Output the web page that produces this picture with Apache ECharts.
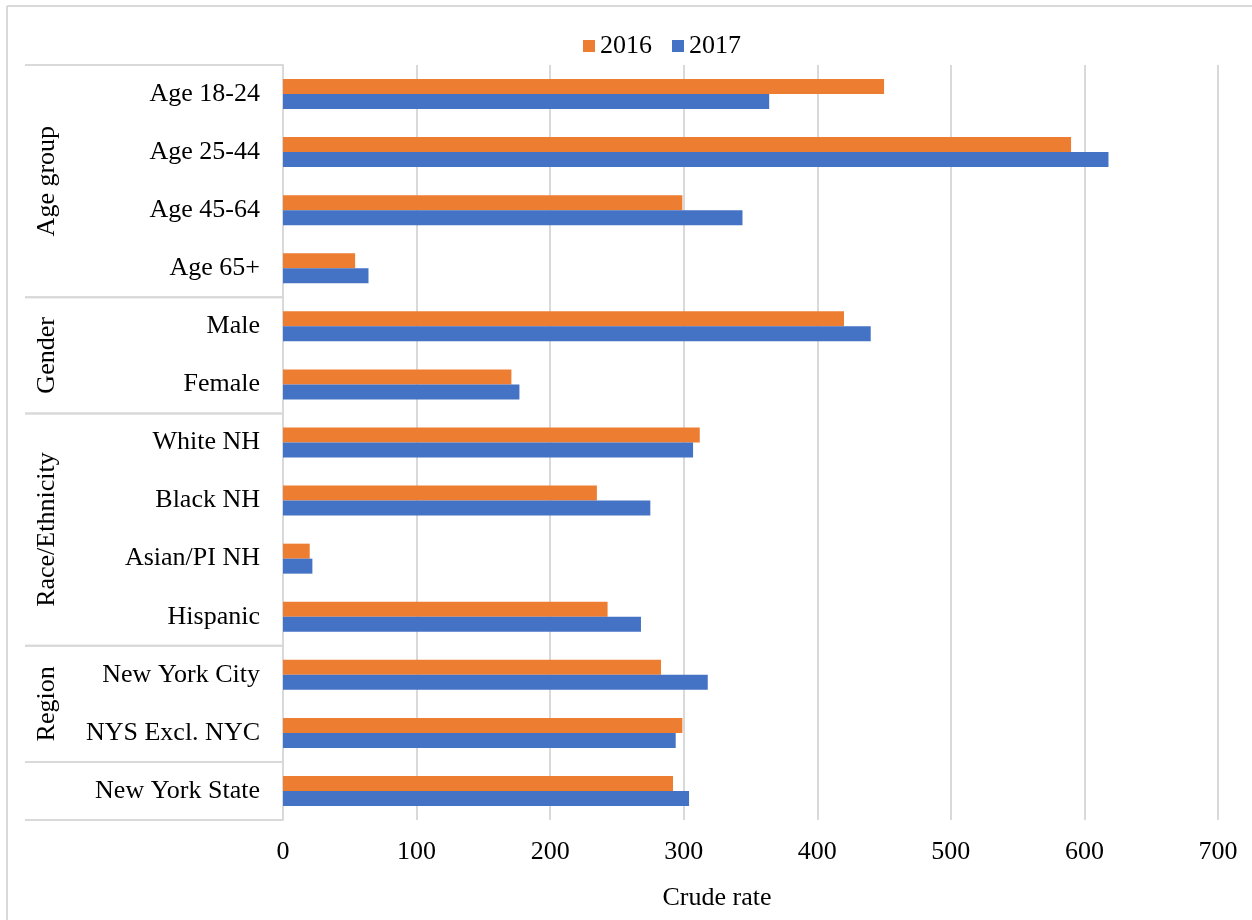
<!DOCTYPE html>
<html>
<head>
<meta charset="utf-8">
<script src="https://cdn.jsdelivr.net/npm/echarts@6/dist/echarts.min.js"></script>
<style>
  html, body { margin: 0; padding: 0; background: #fff; }
  #chart { width: 1252px; height: 920px; }
</style>
</head>
<body>
<div id="chart"></div>
<script>
// categories, top to bottom
const categories = [
  'Age 18-24', 'Age 25-44', 'Age 45-64', 'Age 65+',
  'Male', 'Female',
  'White NH', 'Black NH', 'Asian/PI NH', 'Hispanic',
  'New York City', 'NYS Excl. NYC',
  'New York State'
];
const rate2016 = [450, 590, 299, 54, 420, 171, 312, 235, 20, 243, 283, 299, 292];
const rate2017 = [364, 618, 344, 64, 440, 177, 307, 275, 22, 268, 318, 294, 304];

// group labels: [label, first category, last category]
const groupNames = ['Age group', 'Gender', 'Race/Ethnicity', 'Region', ''];
const groupFirst = ['Age 18-24', 'Male', 'White NH', 'New York City', 'New York State'];
const groupLast = ['Age 65+', 'Female', 'Hispanic', 'NYS Excl. NYC', 'New York State'];

const xMax = 700;
const xStep = 100;

const font = "'Liberation Serif', 'Times New Roman', serif";
const gray = '#d9d9d9';
const ink = '#000';

let chart = echarts.init(document.getElementById('chart'));

let option = {
  animation: false,
  backgroundColor: '#fff',
  textStyle: { fontFamily: font },
  legend: {
    data: ['2016', '2017'],
    left: 578,
    top: 28,
    itemWidth: 12,
    itemHeight: 12,
    itemGap: 20,
    icon: 'rect',
    textStyle: { fontFamily: font, fontSize: 26, color: ink }
  },
  grid: {
    left: 283,
    right: 34,
    top: 65,
    bottom: 100
  },
  xAxis: {
    type: 'value',
    min: 0,
    max: xMax,
    interval: xStep,
    axisLine: { show: false },
    axisTick: { show: false },
    axisLabel: { fontFamily: font, fontSize: 26, color: ink, margin: 19 },
    splitLine: { show: true, lineStyle: { color: gray, width: 2 } }
  },
  yAxis: {
    type: 'category',
    data: categories,
    inverse: true,
    axisLine: { show: true, lineStyle: { color: gray, width: 2 } },
    axisTick: { show: false },
    axisLabel: { fontFamily: font, fontSize: 26, color: ink, margin: 23 }
  },
  series: [
    {
      name: '2016',
      type: 'bar',
      barWidth: 15,
      barGap: '0%',
      itemStyle: { color: '#ED7D31' },
      data: rate2016
    },
    {
      name: '2017',
      type: 'bar',
      barWidth: 15,
      barGap: '0%',
      itemStyle: { color: '#4472C4' },
      data: rate2017
    }
  ]
};

chart.setOption(option);

// group box on the left, placed from the category scale
let y0 = chart.convertToPixel({ yAxisIndex: 0 }, categories[0]);
let y1 = chart.convertToPixel({ yAxisIndex: 0 }, categories[1]);
let half = (y1 - y0) / 2;
let plotLeft = chart.convertToPixel({ xAxisIndex: 0 }, 0);

let graphics = [
  // outer frame
  { type: 'line', shape: { x1: 7, y1: 6, x2: 1252, y2: 6 }, style: { stroke: gray, lineWidth: 2 } },
  { type: 'line', shape: { x1: 7, y1: 6, x2: 7, y2: 920 }, style: { stroke: gray, lineWidth: 2 } },
  // x axis title
  {
    type: 'text', x: 717, y: 898,
    style: { text: 'Crude rate', font: '26px ' + font, fill: ink, textAlign: 'center', textVerticalAlign: 'middle' }
  }
];

for (let i = 0; i < groupNames.length; i++) {
  let top = chart.convertToPixel({ yAxisIndex: 0 }, groupFirst[i]) - half;
  let bottom = chart.convertToPixel({ yAxisIndex: 0 }, groupLast[i]) + half;
  graphics.push({ type: 'line', shape: { x1: 25, y1: top, x2: plotLeft, y2: top }, style: { stroke: gray, lineWidth: 2 } });
  graphics.push({ type: 'line', shape: { x1: 25, y1: bottom, x2: plotLeft, y2: bottom }, style: { stroke: gray, lineWidth: 2 } });
  if (groupNames[i]) {
    graphics.push({
      type: 'text',
      x: 47,
      y: (top + bottom) / 2,
      rotation: Math.PI / 2,
      style: { text: groupNames[i], font: '26px ' + font, fill: ink, textAlign: 'center', textVerticalAlign: 'middle' }
    });
  }
}

chart.setOption({ graphic: graphics });
</script>
</body>
</html>
